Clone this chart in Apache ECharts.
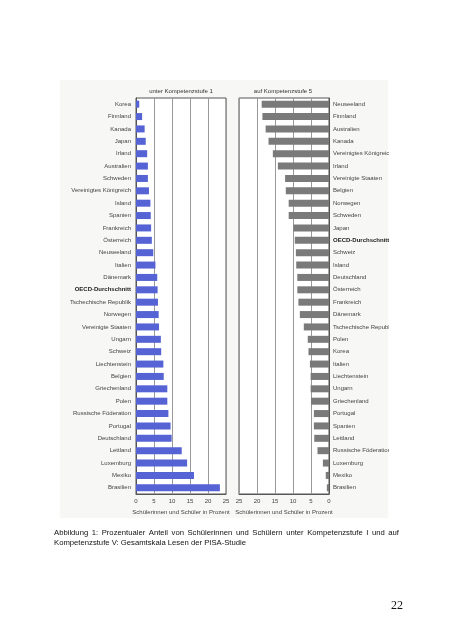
<!DOCTYPE html>
<html>
<head>
<meta charset="utf-8">
<script src="https://cdn.jsdelivr.net/npm/echarts@6/dist/echarts.min.js"></script>
<style>
html,body{margin:0;padding:0;background:#fff;}
#c{width:452px;height:640px;}
</style>
</head>
<body>
<div id="c"></div>
<script>
const leftCategories = ["Korea","Finnland","Kanada","Japan","Irland","Australien","Schweden","Vereinigtes Königreich","Island","Spanien","Frankreich","Österreich","Neuseeland","Italien","Dänemark","OECD-Durchschnitt","Tschechische Republik","Norwegen","Vereinigte Staaten","Ungarn","Schweiz","Liechtenstein","Belgien","Griechenland","Polen","Russische Föderation","Portugal","Deutschland","Lettland","Luxemburg","Mexiko","Brasilien"];
const leftValues = [0.9,1.7,2.4,2.7,3.1,3.3,3.3,3.6,4.0,4.1,4.2,4.4,4.8,5.4,5.9,6.0,6.1,6.3,6.4,6.9,7.0,7.6,7.7,8.7,8.7,9.0,9.6,9.9,12.7,14.2,16.1,23.3];
const rightCategories = ["Neuseeland","Finnland","Australien","Kanada","Vereinigtes Königreich","Irland","Vereinigte Staaten","Belgien","Norwegen","Schweden","Japan","OECD-Durchschnitt","Schweiz","Island","Deutschland","Österreich","Frankreich","Dänemark","Tschechische Republik","Polen","Korea","Italien","Liechtenstein","Ungarn","Griechenland","Portugal","Spanien","Lettland","Russische Föderation","Luxemburg","Mexiko","Brasilien"];
const rightValues = [18.7,18.5,17.6,16.8,15.6,14.2,12.2,12.0,11.2,11.2,9.9,9.5,9.2,9.1,8.8,8.8,8.5,8.1,7.0,5.9,5.7,5.3,5.1,5.1,5.0,4.2,4.2,4.1,3.2,1.7,0.9,0.6];
const xTicks = [0,5,10,15,20,25];
const leftTitle = "unter Kompetenzstufe 1";
const rightTitle = "auf Kompetenzstufe 5";
const axisName = "Schülerinnen und Schüler in Prozent";
const caption1 = "Abbildung 1: Prozentualer Anteil von Schülerinnen und Schülern unter Kompetenzstufe I und auf";
const caption2 = "Kompetenzstufe V: Gesamtskala Lesen der PISA-Studie";
const pageNo = "22";

const FONT = "Liberation Sans";
const labelStyle = {fontFamily: FONT, fontSize: 6, color: '#444'};
function catRich(){ return {b:{fontFamily: FONT, fontSize: 6, color:'#222', fontWeight:'bold'}}; }
function catFmt(v){ return v === 'OECD-Durchschnitt' ? '{b|' + v + '}' : v; }

// justified caption line
const capSize = 7.7;
const capFont = capSize + 'px "' + FONT + '"';
const mctx = document.createElement('canvas').getContext('2d');
mctx.font = capFont;
const words = caption1.split(' ');
const capLeft = 54, capRight = 399;
const wordsW = words.reduce((s, w) => s + mctx.measureText(w).width, 0);
const gap = (capRight - capLeft - wordsW) / (words.length - 1);
const capGraphics = [];
let cx = capLeft;
words.forEach(w => {
  capGraphics.push({type:'text', x:cx, y:533, style:{text:w, fontFamily:FONT, fontSize:capSize, fill:'#111', verticalAlign:'middle'}});
  cx += mctx.measureText(w).width + gap;
});
capGraphics.push({type:'text', x:capLeft, y:543, style:{text:caption2, fontFamily:FONT, fontSize:capSize, fill:'#111', verticalAlign:'middle'}});

const chart = echarts.init(document.getElementById('c'), null, {renderer:'canvas'});
const xAxisCommon = {
  type:'value', min:0, max:25, interval:5,
  axisLine:{show:true, lineStyle:{color:'#555', width:1}},
  axisTick:{show:false},
  splitLine:{show:true, lineStyle:{color:'#999', width:1}},
  axisLabel:Object.assign({margin:4, formatter: v => xTicks.includes(v) ? String(v) : ''}, labelStyle),
  name: axisName, nameLocation:'middle', nameGap:13,
  nameTextStyle:{fontFamily: FONT, fontSize: 6, color:'#444'}
};
chart.setOption({
  animation:false,
  backgroundColor:'#ffffff',
  graphic:[
    {type:'rect', z:-10, shape:{x:60,y:80,width:328,height:438}, style:{fill:'#f7f7f5'}, silent:true},
    {type:'rect', z:100, shape:{x:389,y:92,width:63,height:410}, style:{fill:'#ffffff'}, silent:true},
    {type:'text', x:181, y:88, style:{text:leftTitle, fontFamily:FONT, fontSize:6, fill:'#333', align:'center'}},
    {type:'text', x:283, y:88, style:{text:rightTitle, fontFamily:FONT, fontSize:6, fill:'#333', align:'center'}},
    {type:'text', x:391, y:600, style:{text:pageNo, fontFamily:'Liberation Serif', fontSize:12, fill:'#111'}}
  ].concat(capGraphics),
  grid:[
    {left:136, width:90, top:98, height:396, show:true, borderColor:'#555', borderWidth:1, backgroundColor:'#ffffff'},
    {left:239, width:90, top:98, height:396, show:true, borderColor:'#555', borderWidth:1, backgroundColor:'#ffffff'}
  ],
  xAxis:[
    Object.assign({}, xAxisCommon, {gridIndex:0}),
    Object.assign({}, xAxisCommon, {gridIndex:1, inverse:true})
  ],
  yAxis:[
    {type:'category', gridIndex:0, inverse:true, data:leftCategories,
     axisLine:{show:true, lineStyle:{color:'#555'}}, axisTick:{show:false},
     axisLabel:Object.assign({margin:5, formatter:catFmt, rich:catRich()}, labelStyle)},
    {type:'category', gridIndex:1, inverse:true, position:'right', data:rightCategories,
     axisLine:{show:true, lineStyle:{color:'#555'}}, axisTick:{show:false},
     axisLabel:Object.assign({margin:4, formatter:catFmt, rich:catRich()}, labelStyle)}
  ],
  series:[
    {type:'bar', xAxisIndex:0, yAxisIndex:0, data:leftValues, barWidth:7, itemStyle:{color:'#5563d4'}},
    {type:'bar', xAxisIndex:1, yAxisIndex:1, data:rightValues, barWidth:7, itemStyle:{color:'#7a7a7a'}}
  ]
});
</script>
</body>
</html>
